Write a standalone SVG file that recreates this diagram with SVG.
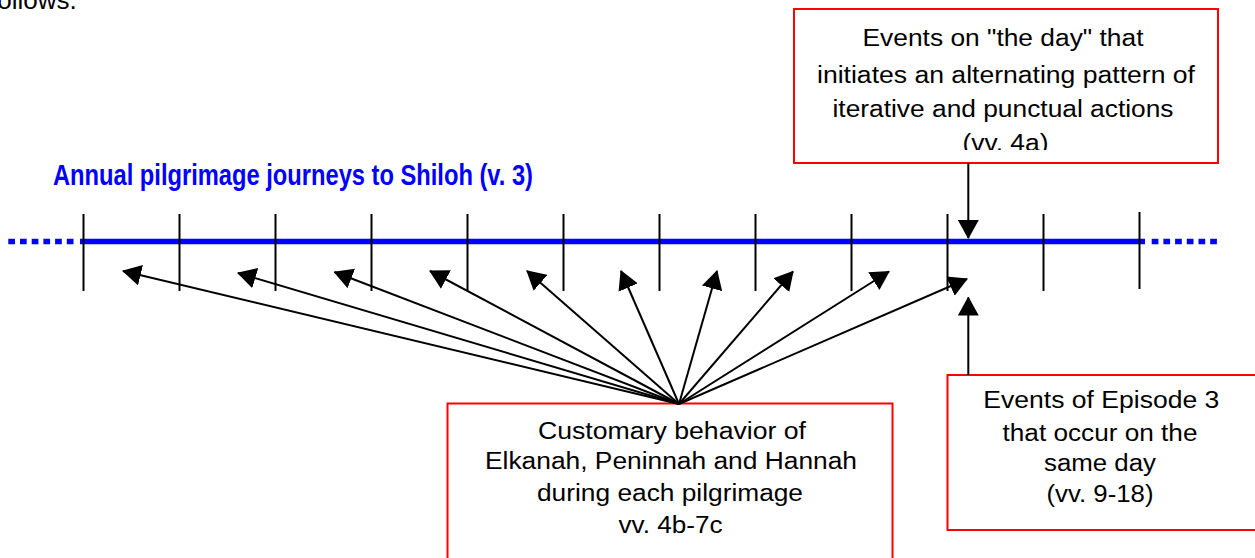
<svg xmlns="http://www.w3.org/2000/svg" width="1255" height="558" viewBox="0 0 1255 558">
<style>
.t{font-family:"Liberation Sans",Arial,sans-serif;font-size:23px;fill:#000;text-anchor:middle}
.box{fill:#fff;stroke:#f00;stroke-width:2}
.tick{stroke:#000;stroke-width:2}
.con{stroke:#000;stroke-width:2;fill:none;marker-end:url(#ah)}
</style>
<defs>
<marker id="ah" markerUnits="userSpaceOnUse" markerWidth="19" markerHeight="21" viewBox="0 0 19 21" refX="18" refY="10.5" orient="auto">
<path d="M0,0 L19,10.5 L0,21 z" fill="#000"/>
</marker>
<clipPath id="clipTop"><rect x="794" y="9" width="424" height="141"/></clipPath>
</defs>
<rect width="1255" height="558" fill="#fff"/>
<text x="-10" y="9" font-family="'Liberation Sans',Arial,sans-serif" font-size="26">follows.</text>
<text x="53" y="184.5" font-family="'Liberation Sans',Arial,sans-serif" font-size="30" font-weight="bold" fill="#00f" textLength="480" lengthAdjust="spacingAndGlyphs">Annual pilgrimage journeys to Shiloh (v. 3)</text>
<g id="timeline">
<line x1="80" y1="241.5" x2="1145" y2="241.5" stroke="#00f" stroke-width="5.3"/>
<line x1="8.3" y1="241.5" x2="76" y2="241.5" stroke="#00f" stroke-width="5.3" stroke-dasharray="6.7 5"/>
<line x1="1151.7" y1="241.5" x2="1217" y2="241.5" stroke="#00f" stroke-width="5.3" stroke-dasharray="6.7 5"/>
<line class="tick" x1="83.5" y1="214" x2="83.5" y2="291"/>
<line class="tick" x1="179.5" y1="214" x2="179.5" y2="291"/>
<line class="tick" x1="275.5" y1="214" x2="275.5" y2="291"/>
<line class="tick" x1="371.5" y1="214" x2="371.5" y2="291"/>
<line class="tick" x1="467.5" y1="214" x2="467.5" y2="291"/>
<line class="tick" x1="563.5" y1="214" x2="563.5" y2="291"/>
<line class="tick" x1="659.5" y1="214" x2="659.5" y2="291"/>
<line class="tick" x1="755.5" y1="214" x2="755.5" y2="291"/>
<line class="tick" x1="851.5" y1="214" x2="851.5" y2="291"/>
<line class="tick" x1="947.5" y1="214" x2="947.5" y2="291"/>
<line class="tick" x1="1043.5" y1="214" x2="1043.5" y2="291"/>
<line class="tick" x1="1139.5" y1="212" x2="1139.5" y2="289"/>
</g>
<g id="node-top">
<rect class="box" x="794" y="9" width="424" height="154"/>
<text class="t" x="1003" y="46" textLength="281" lengthAdjust="spacingAndGlyphs">Events on "the day" that</text>
<text class="t" x="1006" y="82.5" textLength="378" lengthAdjust="spacingAndGlyphs">initiates an alternating pattern of</text>
<text class="t" x="1003" y="116.5" textLength="341" lengthAdjust="spacingAndGlyphs">iterative and punctual actions</text>
<text class="t" x="1005.5" y="151" textLength="86" lengthAdjust="spacingAndGlyphs" clip-path="url(#clipTop)">(vv. 4a)</text>
</g>
<g id="node-custom">
<rect class="box" x="447.5" y="403.5" width="445" height="170"/>
<text class="t" x="672" y="438.5" textLength="268" lengthAdjust="spacingAndGlyphs">Customary behavior of</text>
<text class="t" x="671" y="469" textLength="372" lengthAdjust="spacingAndGlyphs">Elkanah, Peninnah and Hannah</text>
<text class="t" x="670" y="500.5" textLength="266" lengthAdjust="spacingAndGlyphs">during each pilgrimage</text>
<text class="t" x="670.5" y="532.5" textLength="104" lengthAdjust="spacingAndGlyphs">vv. 4b-7c</text>
</g>
<g id="node-episode">
<rect class="box" x="947.5" y="375" width="320" height="155"/>
<text class="t" x="1101.3" y="408.3" textLength="236" lengthAdjust="spacingAndGlyphs">Events of Episode 3</text>
<text class="t" x="1100" y="440.5" textLength="195" lengthAdjust="spacingAndGlyphs">that occur on the</text>
<text class="t" x="1100" y="471" textLength="112" lengthAdjust="spacingAndGlyphs">same day</text>
<text class="t" x="1100" y="502" textLength="107" lengthAdjust="spacingAndGlyphs">(vv. 9-18)</text>
</g>
<g id="connectors">
<line class="con" x1="968.3" y1="163" x2="968.3" y2="238"/>
<line class="con" x1="968.3" y1="375" x2="968.3" y2="297.5"/>
<line class="con" x1="679" y1="404" x2="123" y2="271"/>
<line class="con" x1="679" y1="404" x2="238" y2="273"/>
<line class="con" x1="679" y1="404" x2="334.5" y2="272"/>
<line class="con" x1="679" y1="404" x2="430" y2="271"/>
<line class="con" x1="679" y1="404" x2="527" y2="271"/>
<line class="con" x1="679" y1="404" x2="621" y2="271"/>
<line class="con" x1="679" y1="404" x2="717" y2="271"/>
<line class="con" x1="679" y1="404" x2="793" y2="271.5"/>
<line class="con" x1="679" y1="404" x2="889" y2="271.5"/>
<line class="con" x1="679" y1="404" x2="967" y2="279"/>
</g>
</svg>
